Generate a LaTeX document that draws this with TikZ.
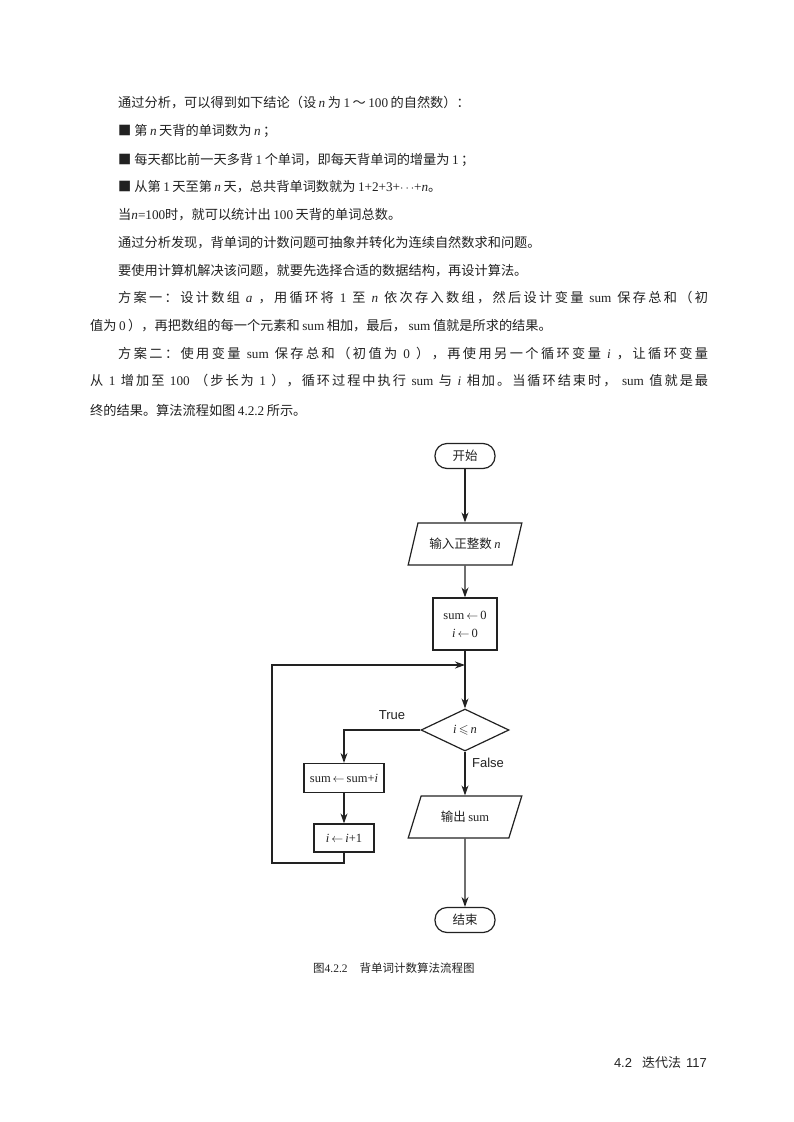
\documentclass[tikz,border=0pt]{standalone}
\usepackage{amssymb}
\usepackage{fontspec}
\setmainfont{Noto Sans CJK SC}
\newfontfamily\latfont{Liberation Serif}
\newfontfamily\sanfont{Liberation Sans}
% stretchable glue between Chinese characters, for justified lines
\XeTeXinterchartokenstate=1
\newXeTeXintercharclass\hanzi
\newcount\hzcount
\hzcount="4E00
\loop\XeTeXcharclass\hzcount=\hanzi\ifnum\hzcount<"9FFF\advance\hzcount by 1\repeat
\hzcount="3000
\loop\XeTeXcharclass\hzcount=\hanzi\ifnum\hzcount<"303F\advance\hzcount by 1\repeat
\hzcount="FF01
\loop\XeTeXcharclass\hzcount=\hanzi\ifnum\hzcount<"FF5E\advance\hzcount by 1\repeat
\XeTeXinterchartoks\hanzi\hanzi={\hskip 0pt plus 2pt\relax}
\usetikzlibrary{shapes.geometric,arrows.meta}
\definecolor{ink}{HTML}{222222}
\newcommand{\en}[1]{\hspace{2.5pt plus 3pt}{\latfont #1}\hspace{2.5pt plus 3pt}}
\newcommand{\vn}[1]{\hspace{2.5pt plus 3pt}{\latfont\itshape #1}\hspace{2.5pt plus 3pt}}

\begin{document}
\begin{tikzpicture}[x=1pt,y=-1pt,color=ink,
  txt/.style={anchor=west,inner sep=0pt,font=\fontsize{13.2}{16}\selectfont},
  term/.style={draw,line width=1.2pt,rounded corners=12pt,minimum width=60pt,minimum height=25pt,font=\fontsize{12.5}{15}\selectfont},
  io/.style={draw,line width=1.2pt,trapezium,trapezium left angle=66,trapezium right angle=114,trapezium stretches=true,minimum width=114pt,minimum height=42pt,font=\fontsize{12.5}{15}\selectfont},
  proc/.style={draw,line width=1.2pt,minimum height=29pt,align=center,font=\fontsize{12.5}{18}\selectfont},
  test/.style={draw,line width=1.2pt,diamond,minimum width=88pt,minimum height=42pt,inner sep=0pt,font=\fontsize{12.5}{15}\selectfont},
  arr/.style={line width=1.2pt,-{Stealth[length=10pt,width=7pt]}},
  lbl/.style={font=\sanfont\fontsize{13}{15}\selectfont}]
\useasboundingbox[fill=white] (0,0) rectangle (793,1122);
% text of the page
\node[txt] (p1) at (118,103) {通过分析，可以得到如下结论（设\vn{n}为\en{1}～\en{100}的自然数）：};
\node[txt] (p2) at (118,131) {■ 第\vn{n}天背的单词数为\vn{n}；};
\node[txt] (p3) at (118,160) {■ 每天都比前一天多背\en{1}个单词，即每天背单词的增量为\en{1}；};
\node[txt] (p4) at (118,187) {■ 从第\en{1}天至第\vn{n}天，总共背单词数就为\hspace{2.5pt}{\latfont 1+2+3+$\cdots$+\itshape n}。};
\node[txt] (p5) at (118,215) {当{\latfont\itshape n}{\latfont =100}时，就可以统计出\en{100}天背的单词总数。};
\node[txt] (p6) at (118,243) {通过分析发现，背单词的计数问题可抽象并转化为连续自然数求和问题。};
\node[txt] (p7) at (118,271) {要使用计算机解决该问题，就要先选择合适的数据结构，再设计算法。};
\node[txt] (p8) at (118,298) {\makebox[590pt][s]{方案一：设计数组\vn{a}，用循环将\en{1}至\vn{n}依次存入数组，然后设计变量\en{sum}保存总和（初}};
\node[txt] (p9) at (90,326) {值为\en{0}），再把数组的每一个元素和\en{sum}相加，最后，\en{sum}值就是所求的结果。};
\node[txt] (p10) at (118,354) {\makebox[590pt][s]{方案二：使用变量\en{sum}保存总和（初值为\en{0}），再使用另一个循环变量\vn{i}，让循环变量}};
\node[txt] (p11) at (90,381) {\makebox[618pt][s]{从\en{1}增加至\en{100}（步长为\en{1}），循环过程中执行\en{sum}与\vn{i}相加。当循环结束时，\en{sum}值就是最}};
\node[txt] (p12) at (90,410) {终的结果。算法流程如图\en{4.2.2}所示。};
% flowchart
\node[term] (start) at (465,456) {开始};
\node[io] (read) at (465,544) {输入正整数\vn{n}};
\node[proc,minimum width=64pt,minimum height=52pt] (init) at (465,624) {{\latfont sum}$\,\leftarrow\,${\latfont 0}\\{\latfont\itshape i}$\,\leftarrow\,${\latfont 0}};
\node[test] (cond) at (465,730) {{\latfont\itshape i}\,$\leqslant$\,{\latfont\itshape n}};
\node[proc,minimum width=80pt] (add) at (344,778) {{\latfont sum}$\,\leftarrow\,${\latfont sum+\itshape i}};
\node[proc,minimum width=60pt,minimum height=28pt] (inc) at (344,838) {{\latfont\itshape i}$\,\leftarrow\,${\latfont\itshape i\upshape +1}};
\node[io] (write) at (465,817) {输出\en{sum}};
\node[term] (stop) at (465,920) {结束};
\node[lbl] (yes) at (392,715) {True};
\node[lbl] (no) at (488,763) {False};
\coordinate (lb) at (272,863);
\coordinate (lt) at (272,665);
\coordinate (join) at (init.south |- lt);
% connectors
\draw[arr] (start) -- (read);
\draw[arr] (read) -- (init);
\draw[arr] (init) -- (cond);
\draw[arr] (cond.west) -| (add.north);
\draw[arr] (add) -- (inc);
\draw[arr] (inc.south) |- (lb) |- (join);
\draw[arr] (cond) -- (write);
\draw[arr] (write) -- (stop);
% caption and footer
\node[font=\fontsize{11.5}{14}\selectfont,anchor=west,inner sep=0pt] (cap) at (313,968) {图{\latfont 4.2.2}\hspace{12pt}背单词计数算法流程图};
\node[font=\fontsize{13}{15}\selectfont,anchor=east,inner sep=0pt] (foot) at (707,1063) {{\sanfont 4.2}\hspace{10pt}迭代法\hspace{5pt}{\sanfont 117}};
\end{tikzpicture}
\end{document}
